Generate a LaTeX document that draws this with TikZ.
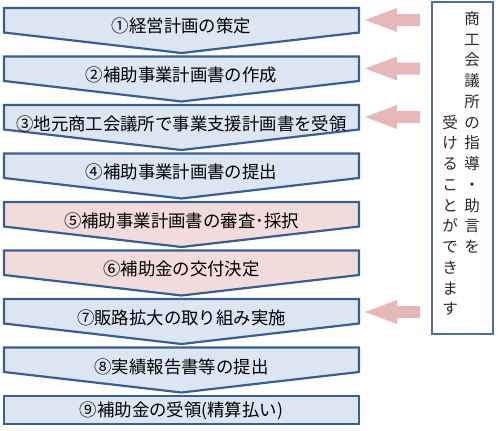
\documentclass[tikz,border=0pt]{standalone}
\usepackage{fontspec}
\setmainfont{Noto Sans CJK JP}
\definecolor{bdr}{HTML}{3A5F8E}
\definecolor{bfill}{HTML}{DCE6F2}
\definecolor{pfill}{HTML}{F2DCDB}
\definecolor{afill}{HTML}{E6B9B8}
\definecolor{boxc}{HTML}{4F6E98}
\begin{document}
\begin{tikzpicture}[x=1pt,y=-1pt]
\useasboundingbox (0,0) rectangle (499,431);
\tikzset{
  chev/.style={draw=bdr, line width=2.2pt, line join=miter},
  bluechev/.style={chev, fill=bfill},
  pinkchev/.style={chev, fill=pfill},
  lbl/.style={font=\fontsize{17.4}{17.4}\selectfont, inner sep=0pt, text height=15.3pt, text depth=2.1pt},
  larrow/.style={fill=afill, draw=none},
  vch/.style={font=\fontsize{15.5}{15.5}\selectfont, inner sep=0pt, text height=13.6pt, text depth=1.9pt, text=black!85},
}
\newcommand\mychev[2]{%
  \path[#1] (4,#2) -- (359,#2) -- (359,#2+24.5) -- (181.5,#2+45) -- (4,#2+24.5) -- cycle;}
\newcommand\myarrow[1]{%
  \path[larrow] (365,#1) -- (397,#1-12) -- (397,#1-6) -- (420,#1-6) -- (420,#1+6) -- (397,#1+6) -- (397,#1+12) -- cycle;}
% chevrons
\mychev{bluechev}{8}
\mychev{bluechev}{56.5}
\mychev{bluechev}{105}
\mychev{bluechev}{153.5}
\mychev{pinkchev}{202}
\mychev{pinkchev}{250.5}
\mychev{bluechev}{299}
\mychev{bluechev}{347.5}
\path[bluechev] (4,396) rectangle (359,424);
% labels
\node[lbl] (s1) at (181.5,8+17.5) {①経営計画の策定};
\node[lbl] (s2) at (181.5,56.5+18) {②補助事業計画書の作成};
\node[lbl] (s3) at (181.5,105+18.5) {③地元商工会議所で事業支援計画書を受領};
\node[lbl] (s4) at (181.5,153.5+18.5) {④補助事業計画書の提出};
\node[lbl] (s5) at (181.5,202+18.5) {⑤補助事業計画書の審査･採択};
\node[lbl] (s6) at (181.5,250.5+18.5) {⑥補助金の交付決定};
\node[lbl] (s7) at (181.5,299+19) {⑦販路拡大の取り組み実施};
\node[lbl] (s8) at (181.5,347.5+19) {⑧実績報告書等の提出};
\node[lbl] (s9) at (181.5,410) {⑨補助金の受領(精算払い)};
% block arrows
\myarrow{20}
\myarrow{68.5}
\myarrow{117}
\myarrow{312}
% advice box
\draw[boxc, line width=1.3pt] (432,2) rectangle (493,334);
\foreach \ch [count=\i] in {商,工,会,議,所,の,指,導,・,助,言,を}
  \node[vch] (a\i) at (472,18.5+\i*20.75-20.75) {\ch};
\foreach \ch [count=\i] in {受,け,る,こ,と,が,で,き,ま,す}
  \node[vch] (b\i) at (450,122.3+\i*20.75-20.75) {\ch};
\end{tikzpicture}
\end{document}
